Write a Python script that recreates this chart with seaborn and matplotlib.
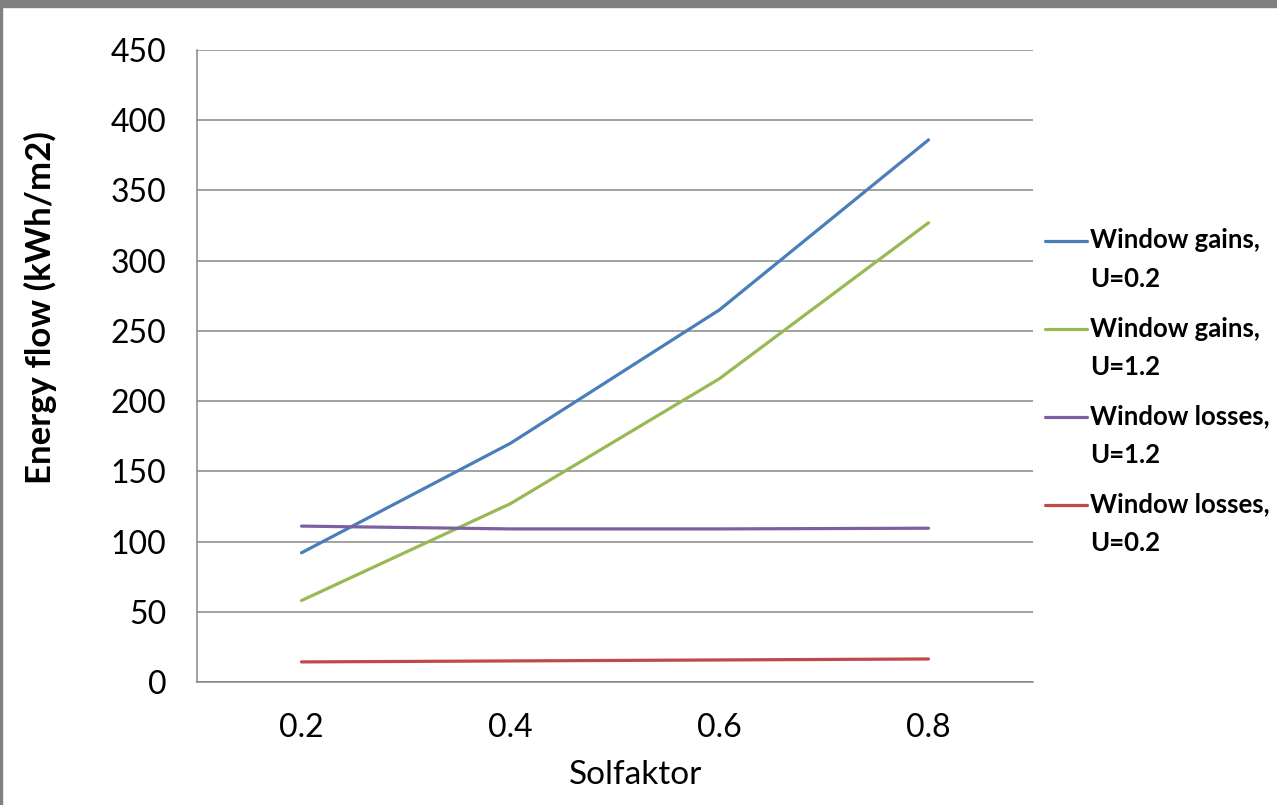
import matplotlib
matplotlib.use("Agg")
import matplotlib.pyplot as plt
import seaborn as sns
import pandas as pd
from matplotlib.lines import Line2D

# Window energy balance versus solar factor
solfaktor = ["0.2", "0.4", "0.6", "0.8"]
gains_u02 = [92, 170, 265, 386]
gains_u12 = [58, 127, 216, 327]
losses_u12 = [111, 109, 109, 109.5]
losses_u02 = [14.3, 15, 15.7, 16.4]

series_names = ["Window gains,\nU=0.2", "Window gains,\nU=1.2",
                "Window losses,\nU=1.2", "Window losses,\nU=0.2"]
series_values = [gains_u02, gains_u12, losses_u12, losses_u02]
colors = ["#4A7EBB", "#98B954", "#7D60A0", "#BE4B48"]

rows = []
for name, vals in zip(series_names, series_values):
    for x, v in zip(solfaktor, vals):
        rows.append({"Solfaktor": x, "value": v, "series": name})
df = pd.DataFrame(rows)

sns.set_theme(style="white")
plt.rcParams["font.family"] = ["Lato", "DejaVu Sans"]
plt.rcParams["text.color"] = "black"
plt.rcParams["axes.labelcolor"] = "black"

W, H = 1277, 805
fig = plt.figure(figsize=(W / 100, H / 100), dpi=100)
ax = fig.add_axes([197 / W, 1 - 682 / H, (1033 - 197) / W, (682 - 50) / H])

sns.lineplot(data=df, x="Solfaktor", y="value", hue="series",
             hue_order=series_names, palette=colors, linewidth=2.3,
             legend=False, ax=ax, sort=False)

ax.set_xlim(-0.5, 3.5)
ax.set_ylim(0, 450)
ax.set_yticks(range(0, 451, 50))
ax.yaxis.grid(True, color="#878787", linewidth=1.1)
ax.set_axisbelow(True)
for side in ["top", "right"]:
    ax.spines[side].set_visible(False)
for side in ["left", "bottom"]:
    ax.spines[side].set_color("#878787")
    ax.spines[side].set_linewidth(1.1)
ax.tick_params(axis="both", length=0, labelsize=23, colors="black")
ax.tick_params(axis="y", pad=22)
ax.tick_params(axis="x", pad=22)

ax.set_xlabel("Solfaktor", fontsize=24)
ax.xaxis.label.set_va("center")
ax.xaxis.set_label_coords((636 - 197) / 836, -(775 - 682) / 632)

ax.set_ylabel("Energy flow (kWh/m2)", fontsize=25, fontweight="bold")
ax.yaxis.label.set_va("center")
ax.yaxis.set_label_coords((40 - 197) / 836, (682 - 308) / 632)

# Legend entries with the marker on the first text line
for i, (name, c) in enumerate(zip(series_names, colors)):
    y = 241 + i * 88
    fig.add_artist(Line2D([1045 / W, 1087 / W], [1 - y / H, 1 - y / H],
                          color=c, linewidth=2.3, transform=fig.transFigure))
    fig.text(1090 / W, 1 - (y - 12.5) / H, name, fontsize=18.5, fontweight="bold",
             va="top", ha="left", linespacing=1.72)

# Window frame around the chart
fig.add_artist(plt.Rectangle((0, 1 - 7 / H), 1, 7 / H, color="#808080",
                             transform=fig.transFigure))
fig.add_artist(plt.Rectangle((0, 0), 2 / W, 1, color="#808080",
                             transform=fig.transFigure))

fig.savefig("out.png", dpi=100)
